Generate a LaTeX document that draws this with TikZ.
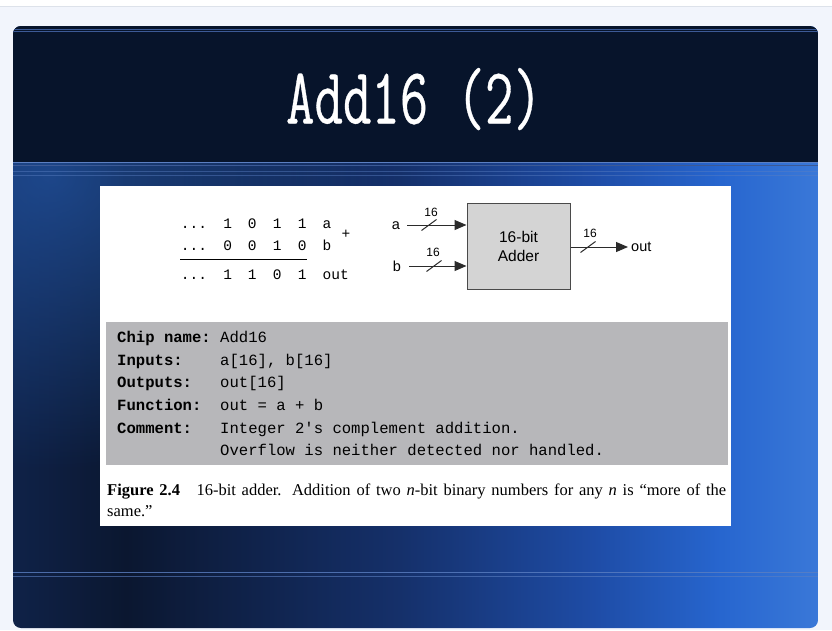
\documentclass[tikz,border=0pt]{standalone}
\usepackage{fontspec}
\setmainfont{Liberation Serif}
\newfontfamily\monofont{Liberation Mono}
\newfontfamily\titlefont[FakeStretch=0.69,FakeBold=0.4]{Latin Modern Mono}
\newfontfamily\arialfont{Liberation Sans}
\usetikzlibrary{arrows.meta,fadings}

\definecolor{pagebg}{HTML}{F2F5FC}
\definecolor{topline}{HTML}{DDE2EA}
\definecolor{hdr}{HTML}{07142B}
\definecolor{hline}{HTML}{3C5A96}
\definecolor{hlinelight}{HTML}{5B7FC2}
\definecolor{glowblue}{HTML}{2458AA}
\definecolor{specgray}{HTML}{B7B7BA}
\definecolor{chipgray}{HTML}{D4D4D4}
\definecolor{chipedge}{HTML}{4A4A4A}
\definecolor{wirecol}{HTML}{2B2B2B}
\definecolor{b0}{HTML}{0F2248}
\definecolor{b1}{HTML}{0B1730}
\definecolor{b2}{HTML}{15306A}
\definecolor{b3}{HTML}{1E4CA6}
\definecolor{b4}{HTML}{2766CF}
\definecolor{b5}{HTML}{3A78D8}

\pgfdeclarehorizontalshading{bodyshade}{100bp}{%
  color(0bp)=(b0); color(25bp)=(b0); color(32bp)=(b1); color(49bp)=(b2);
  color(61bp)=(b3); color(69bp)=(b4); color(75bp)=(b5); color(100bp)=(b5)}

% soft glow that fades out towards its rim
\tikzfading[name=glow, inner color=transparent!30, outer color=transparent!100]

\tikzset{
  bin/.style={font=\monofont\fontsize{14.5}{14.5}\selectfont, inner sep=0pt, anchor=base},
  binlab/.style={bin, anchor=base west},
  speclab/.style={font=\monofont\bfseries\fontsize{15.6}{15.6}\selectfont, inner sep=0pt, anchor=base west},
  specval/.style={font=\monofont\fontsize{15.6}{15.6}\selectfont, inner sep=0pt, anchor=base west},
  sans/.style={font=\arialfont\fontsize{14.5}{14.5}\selectfont, inner sep=0pt},
  width label/.style={font=\arialfont\fontsize{12}{12}\selectfont, inner sep=0pt},
  chip/.style={draw=chipedge, fill=chipgray, line width=1pt, minimum width=103pt,
    minimum height=86pt, inner sep=0pt, align=center,
    font=\arialfont\fontsize{15.5}{19}\selectfont},
  bus/.style={draw=wirecol, line width=1pt, -{Triangle[length=12pt,width=10pt]}},
  slashmark/.style={draw=wirecol, line width=1pt},
}

\begin{document}
\begin{tikzpicture}[x=1pt,y=-1pt]
\useasboundingbox (0,0) rectangle (832,630);
% page
\fill[pagebg] (0,0) rectangle (832,630);
\fill[white] (0,0) rectangle (832,6);
\draw[topline, line width=1pt] (0,6.5) -- (832,6.5);

% slide panel
\begin{scope}
  \clip[rounded corners=8pt] (13,26) rectangle (818,628);
  \shade[shading=bodyshade] (13,26) rectangle (818,628);
  \fill[glowblue, path fading=glow, fit fading=true] (-300,-120) rectangle (400,470);
  \fill[hdr] (13,26) rectangle (818,162);
  \draw[hline, line width=0.8pt] (13,29.3) -- (818,29.3);
  \draw[hline, line width=0.8pt] (13,31.8) -- (818,31.8);
  \draw[hlinelight, line width=1.2pt] (13,162.3) -- (818,162.3);
  \draw[hline, line width=0.8pt] (13,165.8) -- (818,165.8);
  \draw[hlinelight, opacity=0.45, line width=0.8pt] (13,171.7) -- (818,171.7);
  \draw[hlinelight, opacity=0.45, line width=0.8pt] (13,175.7) -- (818,175.7);
  \draw[hlinelight, opacity=0.8, line width=1pt] (13,572.7) -- (818,572.7);
  \draw[hlinelight, opacity=0.6, line width=0.8pt] (13,576.7) -- (818,576.7);
\end{scope}

% title
\node[font=\titlefont\fontsize{80}{80}\selectfont, text=white, inner sep=0pt, anchor=base]
  (title) at (414,123.5) {Add16 (2)};

% figure sheet
\fill[white] (100,186) rectangle (731,526);

% binary addition
\node[bin] (r1dots) at (194,228.3) {...};
\node[bin] (r1d1) at (227.7,228.3) {1};
\node[bin] (r1d2) at (252.3,228.3) {0};
\node[bin] (r1d3) at (277.3,228.3) {1};
\node[bin] (r1d4) at (302.3,228.3) {1};
\node[binlab] (r1lab) at (322.5,228.3) {a};
\node[bin] (r2dots) at (194,250.3) {...};
\node[bin] (r2d1) at (227.7,250.3) {0};
\node[bin] (r2d2) at (252.3,250.3) {0};
\node[bin] (r2d3) at (277.3,250.3) {1};
\node[bin] (r2d4) at (302.3,250.3) {0};
\node[binlab] (r2lab) at (322.5,250.3) {b};
\node[bin, anchor=center] (plus) at (346,234.3) {+};
\draw[line width=1.3pt] (180,259.7) -- (307,259.7);
\node[bin] (r3dots) at (194,279.3) {...};
\node[bin] (r3d1) at (227.7,279.3) {1};
\node[bin] (r3d2) at (252.3,279.3) {1};
\node[bin] (r3d3) at (277.3,279.3) {0};
\node[bin] (r3d4) at (302.3,279.3) {1};
\node[binlab] (r3lab) at (322.5,279.3) {out};

% adder block
\node[chip] (adder) at (518.5,246) {16-bit\\Adder};
\node[sans, anchor=base] (alab) at (396,229) {a};
\node[sans, anchor=base] (blab) at (397,271.7) {b};
\node[sans, anchor=base west] (olab) at (631,251) {out};
\coordinate (ain) at (407,225);
\coordinate (bin) at (409,266);
\coordinate (oend) at (628,247);
\draw[bus] (ain) -- (adder.west |- ain);
\draw[bus] (bin) -- (adder.west |- bin);
\draw[bus] (adder.east |- oend) -- (oend);
\coordinate (sa) at (429,225);
\coordinate (sb) at (434,266);
\coordinate (so) at (588,247);
\draw[slashmark] ([shift={(-7.5,5.5)}]sa) -- ([shift={(7.5,-5.5)}]sa);
\draw[slashmark] ([shift={(-7.5,5.5)}]sb) -- ([shift={(7.5,-5.5)}]sb);
\draw[slashmark] ([shift={(-7.5,5.5)}]so) -- ([shift={(7.5,-5.5)}]so);
\node[width label] (wa) at (431,212) {16};
\node[width label] (wb) at (433,252) {16};
\node[width label] (wo) at (590,233) {16};

% chip specification
\node[fill=specgray, minimum width=622pt, minimum height=143pt, inner sep=0pt] (spec) at (417,393.5) {};
\node[speclab] (l1) at (117,342.7) {Chip name:};
\node[speclab] (l2) at (117,365.3) {Inputs:};
\node[speclab] (l3) at (117,387.9) {Outputs:};
\node[speclab] (l4) at (117,410.5) {Function:};
\node[speclab] (l5) at (117,433.1) {Comment:};
\node[specval] (v1) at (220,342.7) {Add16};
\node[specval] (v2) at (220,365.3) {a[16], b[16]};
\node[specval] (v3) at (220,387.9) {out[16]};
\node[specval] (v4) at (220,410.5) {out = a + b};
\node[specval] (v5) at (220,433.1) {Integer 2's complement addition.};
\node[specval] (v6) at (220,455.7) {Overflow is neither detected nor handled.};

% caption
\node[anchor=north west, inner sep=0pt, text width=619pt, align=justify,
  font=\fontsize{16.5}{20.5}\selectfont] (cap) at (107,484)
  {\textbf{Figure 2.4}\hspace{1em}16-bit adder. Addition of two \textit{n}-bit binary numbers for any \textit{n} is “more of the same.”};
\end{tikzpicture}
\end{document}
